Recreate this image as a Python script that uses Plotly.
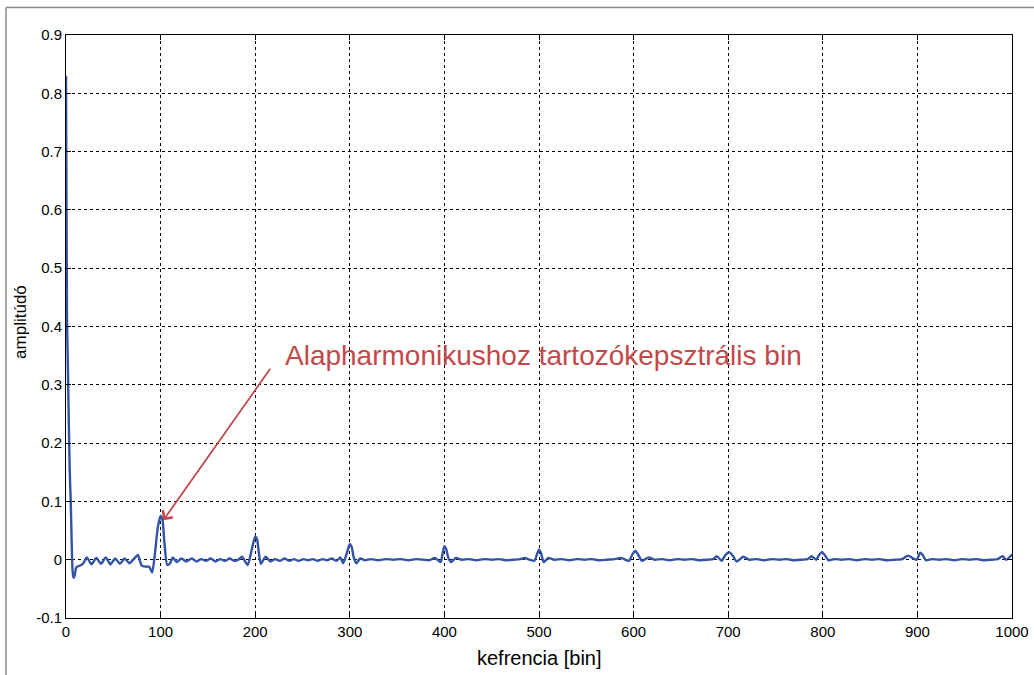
import plotly.graph_objects as go

# ---- data ----
bins_onset = [0, 1, 2, 3, 4, 5, 6, 7, 8, 9, 11, 15, 18, 22, 27, 32, 37, 42, 47, 52, 57, 62, 67, 72, 76, 80, 85, 88, 91, 94, 97]
amp_onset = [0.83, 0.42, 0.33, 0.23, 0.15, 0.10, 0.03, -0.02, -0.031, -0.028, -0.013, -0.010, -0.007, 0.004, -0.008, 0.003,
             -0.007, 0.004, -0.008, 0.002, -0.007, 0.002, -0.006, 0.002, 0.008, -0.010, -0.012, -0.012, -0.022, 0.010, 0.055]

bins_h1 = [100, 102, 104, 107, 110, 113, 117, 122, 127, 133, 138, 143, 148, 153, 158, 163, 168, 173, 178, 183, 186, 192, 196]
amp_h1 = [0.075, 0.068, 0.030, -0.009, -0.006, 0.004, -0.004, 0.002, -0.003, 0.002, -0.003, 0.001, -0.002, 0.002, -0.003,
          0.001, -0.002, 0.002, -0.002, 0.001, 0.005, -0.009, 0.015]

bins_h2 = [200, 202, 204, 206, 211, 216, 221, 226, 231, 236, 241, 246, 251, 256, 261, 266, 271, 276, 281, 286, 290, 293, 297]
amp_h2 = [0.040, 0.035, 0.010, -0.007, 0.005, -0.003, 0.001, -0.002, 0.002, -0.002, 0.001, -0.002, 0.001, -0.001, 0.001,
          -0.002, 0.001, -0.001, 0.002, -0.002, 0.004, -0.006, 0.012]

bins_h3 = [300, 302, 304, 307, 311, 316, 322, 330, 338, 346, 354, 362, 370, 378, 384, 390, 396, 398]
amp_h3 = [0.027, 0.022, 0.005, -0.006, 0.002, -0.001, 0.001, -0.001, 0.001, 0.000, 0.001, -0.001, 0.001, 0.000, -0.001,
          0.003, -0.004, 0.010]

bins_h4 = [400, 402, 404, 407, 412, 418, 426, 434, 442, 450, 458, 466, 474, 480, 485, 490, 495, 498]
amp_h4 = [0.023, 0.018, 0.004, -0.004, 0.003, 0.000, 0.001, -0.001, 0.001, 0.000, 0.001, -0.001, 0.000, 0.001, 0.003,
          0.000, -0.002, 0.010]

bins_h5 = [500, 502, 505, 510, 516, 524, 532, 540, 548, 556, 564, 572, 580, 587, 595, 599]
amp_h5 = [0.017, 0.012, -0.004, 0.003, 0.000, 0.001, -0.001, 0.001, 0.000, 0.001, -0.001, 0.000, 0.001, 0.003, -0.002, 0.010]

bins_h6 = [602, 605, 609, 616, 622, 630, 638, 646, 654, 662, 670, 678, 684, 688, 693, 697]
amp_h6 = [0.015, 0.008, -0.002, 0.004, 0.000, 0.001, -0.001, 0.001, 0.000, 0.001, -0.001, 0.000, 0.001, 0.006, -0.002, 0.008]

bins_h7 = [701, 704, 709, 716, 722, 730, 738, 746, 754, 762, 770, 778, 784, 788, 793, 796]
amp_h7 = [0.013, 0.009, -0.003, 0.005, 0.000, 0.001, -0.001, 0.001, 0.000, 0.001, -0.001, 0.000, 0.001, 0.006, 0.000, 0.008]

bins_h8 = [799, 802, 806, 812, 820, 828, 836, 844, 852, 860, 868, 876, 884, 890, 899]
amp_h8 = [0.013, 0.008, -0.001, 0.001, 0.000, 0.001, -0.001, 0.001, 0.000, 0.001, -0.001, 0.000, 0.001, 0.007, 0.000]

bins_h9 = [903, 906, 909, 915, 923, 931, 939, 947, 955, 963, 971, 979, 985, 990, 994, 1000]
amp_h9 = [0.012, 0.007, -0.001, 0.001, 0.000, 0.001, -0.001, 0.001, 0.000, 0.001, -0.001, 0.000, 0.001, 0.006, 0.000, 0.009]

x_ticks = [0, 100, 200, 300, 400, 500, 600, 700, 800, 900, 1000]
y_ticks = [-0.1, 0, 0.1, 0.2, 0.3, 0.4, 0.5, 0.6, 0.7, 0.8, 0.9]
y_ticktext = ["-0.1", "0", "0.1", "0.2", "0.3", "0.4", "0.5", "0.6", "0.7", "0.8", "0.9"]

annotation_text = "Alapharmonikushoz tartozókepsztrális bin"
x_title = "kefrencia [bin]"
y_title = "amplitúdó"

bins = (bins_onset + bins_h1 + bins_h2 + bins_h3 + bins_h4 + bins_h5 + bins_h6 + bins_h7 + bins_h8 + bins_h9)
amp = (amp_onset + amp_h1 + amp_h2 + amp_h3 + amp_h4 + amp_h5 + amp_h6 + amp_h7 + amp_h8 + amp_h9)

BLUE = "#3253a6"
RED = "#c4474a"
FONT = "Liberation Sans, Arial, sans-serif"

fig = go.Figure()
fig.add_trace(go.Scatter(x=bins, y=amp, mode="lines",
                         line=dict(color=BLUE, width=2.4, shape="spline", smoothing=0.6),
                         hoverinfo="skip", showlegend=False))

axis_common = dict(showline=True, linecolor="black", linewidth=1, mirror="ticks",
                   ticks="inside", ticklen=5, tickcolor="black", tickwidth=1,
                   showgrid=True, gridcolor="black", gridwidth=1, griddash="dot",
                   zeroline=False, automargin=False,
                   tickfont=dict(family=FONT, size=15, color="black"))

fig.update_xaxes(range=[0, 1000], tickvals=x_ticks, **axis_common)
fig.update_yaxes(range=[-0.1, 0.9], tickvals=y_ticks, ticktext=y_ticktext, ticklabelstandoff=0, **axis_common)

# axis titles placed as paper annotations
fig.add_annotation(x=0.5, y=-0.0686, xref="paper", yref="paper", text=x_title, showarrow=False,
                   xanchor="center", yanchor="middle", font=dict(family=FONT, size=20, color="black"))
fig.add_annotation(x=-0.0475, y=0.508, xref="paper", yref="paper", text=y_title, showarrow=False,
                   textangle=-90, xanchor="center", yanchor="middle",
                   font=dict(family=FONT, size=17, color="black"))

# arrow (tip at the first harmonic peak)
fig.add_annotation(x=102.8, y=0.0675, xref="x", yref="y", text="", showarrow=True,
                   arrowhead=4, arrowsize=1.3, arrowwidth=1.8, arrowcolor=RED,
                   ax=108, ay=-153, axref="pixel", ayref="pixel")
fig.add_annotation(x=229.6, y=0.350, xref="x", yref="y", text=annotation_text, showarrow=False,
                   xanchor="left", yanchor="middle",
                   font=dict(family=FONT, size=28, color=RED))

# outer gray frame (left and top edges)
fig.add_shape(type="line", xref="paper", yref="paper", x0=-0.0634, x1=-0.0634, y0=1.047, y1=-0.1,
              line=dict(color="#8a8a8a", width=1.5))
fig.add_shape(type="line", xref="paper", yref="paper", x0=-0.0634, x1=1.03, y0=1.047, y1=1.047,
              line=dict(color="#8a8a8a", width=1.5))

fig.update_layout(width=1034, height=675, margin=dict(l=66, r=22, t=35, b=57),
                  paper_bgcolor="white", plot_bgcolor="white",
                  font=dict(family=FONT, color="black"))

fig.write_html("out.html")
